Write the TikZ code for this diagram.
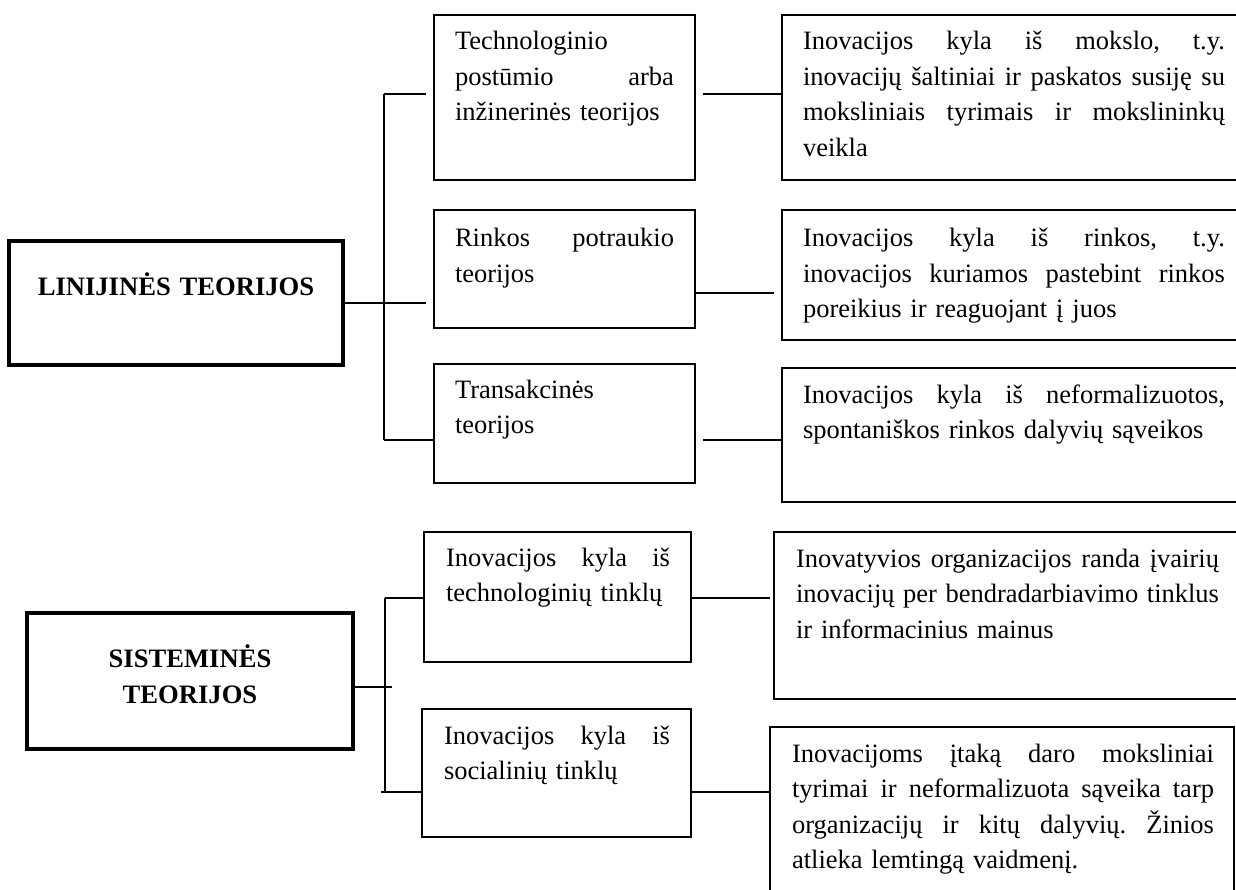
\documentclass[tikz,border=0pt]{standalone}
\usepackage{fontspec}
\setmainfont{Liberation Serif}
\newcommand\JL[2]{\leavevmode\hbox to #1{#2}}
\newcommand\G{\hfill}
\begin{document}
\frenchspacing
\begin{tikzpicture}[x=1pt,y=-1pt,
  box/.style={draw, line width=1.4pt, rectangle, inner sep=0pt, outer sep=0pt, anchor=north west},
  mainbox/.style={box, line width=4pt},
  txt/.style={anchor=base west, inner sep=0pt, outer sep=0pt, align=left, font=\fontsize{26.5}{35.5}\selectfont},
  ttl/.style={anchor=base, inner sep=0pt, outer sep=0pt, align=center, text width=320pt, font=\fontsize{26.6}{36}\selectfont\bfseries},
  conn/.style={line width=1.4pt}]
\useasboundingbox (0,0) rectangle (1236,890);
\clip (0,0) rectangle (1236,890);

% main boxes
\node[mainbox, minimum width=334pt, minimum height=124pt] (lt) at (9,241) {};
\node[mainbox, minimum width=326pt, minimum height=136pt] (st) at (27,613) {};
% middle boxes
\node[box, minimum width=261pt, minimum height=165pt] (m1) at (434,15) {};
\node[box, minimum width=261pt, minimum height=118pt] (m2) at (434,210) {};
\node[box, minimum width=261pt, minimum height=119pt] (m3) at (434,364) {};
\node[box, minimum width=267pt, minimum height=130pt] (m4) at (424,532) {};
\node[box, minimum width=269pt, minimum height=128pt] (m5) at (422,709) {};
% right boxes
\node[box, minimum width=470pt, minimum height=165pt] (r1) at (782,15) {};
\node[box, minimum width=470pt, minimum height=130pt] (r2) at (782,210) {};
\node[box, minimum width=470pt, minimum height=134pt] (r3) at (782,368) {};
\node[box, minimum width=480pt, minimum height=167pt] (r4) at (774,532) {};
\node[box, minimum width=464pt, minimum height=180pt] (r5) at (770,727) {};

% texts
\node[ttl] (ltt) at (176,296) {LINIJINĖS TEORIJOS};
\node[ttl] (stt) at (190,667) {SISTEMINĖS\\TEORIJOS};

\node[txt, text width=219pt] (m1t) at (455,50) {Technologinio\\\JL{219pt}{postūmio\G arba}\\inžinerinės teorijos};
\node[txt, text width=219pt] (m2t) at (455,247) {\JL{219pt}{Rinkos\G potraukio}\\teorijos};
\node[txt, text width=219pt] (m3t) at (455,398) {Transakcinės\\teorijos};
\node[txt, text width=224pt] (m4t) at (446,566) {\JL{224pt}{Inovacijos\G kyla\G iš}\\technologinių tinklų};
\node[txt, text width=226pt] (m5t) at (444,744) {\JL{226pt}{Inovacijos\G kyla\G iš}\\socialinių tinklų};

\node[txt, text width=422pt] (r1t) at (803,50) {\JL{422pt}{Inovacijos\G kyla\G iš\G mokslo,\G t.y.}\\\JL{422pt}{inovacijų\G šaltiniai\G ir\G paskatos\G susiję\G su}\\\JL{422pt}{moksliniais\G tyrimais\G ir\G mokslininkų}\\veikla};
\node[txt, text width=422pt] (r2t) at (803,247) {\JL{422pt}{Inovacijos\G kyla\G iš\G rinkos,\G t.y.}\\\JL{422pt}{inovacijos\G kuriamos\G pastebint\G rinkos}\\poreikius ir reaguojant į juos};
\node[txt, text width=422pt] (r3t) at (803,403) {\JL{422pt}{Inovacijos\G kyla\G iš\G neformalizuotos,}\\spontaniškos rinkos dalyvių sąveikos};
\node[txt, text width=423pt] (r4t) at (796,567) {\JL{423pt}{Inovatyvios\G organizacijos\G randa\G įvairių}\\\JL{423pt}{inovacijų\G per\G bendradarbiavimo\G tinklus}\\ir informacinius mainus};
\node[txt, text width=422pt] (r5t) at (792,762) {\JL{422pt}{Inovacijoms\G įtaką\G daro\G moksliniai}\\\JL{422pt}{tyrimai\G ir\G neformalizuota\G sąveika\G tarp}\\\JL{422pt}{organizacijų\G ir\G kitų\G dalyvių.\G Žinios}\\atlieka lemtingą vaidmenį.};

% bracket coordinates
\coordinate (b1t) at (384,94);
\coordinate (b1b) at (384,440);
\coordinate (b1e) at (426,94);
\coordinate (b1m) at (426,303);
\coordinate (b2t) at (385,598);
\coordinate (b2b) at (385,792);
\coordinate (b2l) at (381,792);
\coordinate (b2s) at (392,687);
\coordinate (k1) at (703,94);
\coordinate (k2) at (774,293);
\coordinate (k3) at (703,440);
\coordinate (k4) at (770,598);

% linear theories connectors
\draw[conn] (lt.east |- b1m) -- (b1m);
\draw[conn] (b1t) -- (b1b);
\draw[conn] (b1t) -- (b1e);
\draw[conn] (b1b) -- (m3.west |- b1b);
\draw[conn] (k1) -- (r1.west |- k1);
\draw[conn] (m2.east |- k2) -- (k2);
\draw[conn] (k3) -- (r3.west |- k3);

% systemic theories connectors
\draw[conn] (st.east |- b2s) -- (b2s);
\draw[conn] (b2t) -- (b2b);
\draw[conn] (b2t) -- (m4.west |- b2t);
\draw[conn] (b2l) -- (m5.west |- b2l);
\draw[conn] (m4.east |- k4) -- (k4);
\draw[conn] (m5.east |- b2b) -- (r5.west |- b2b);
\end{tikzpicture}
\end{document}
